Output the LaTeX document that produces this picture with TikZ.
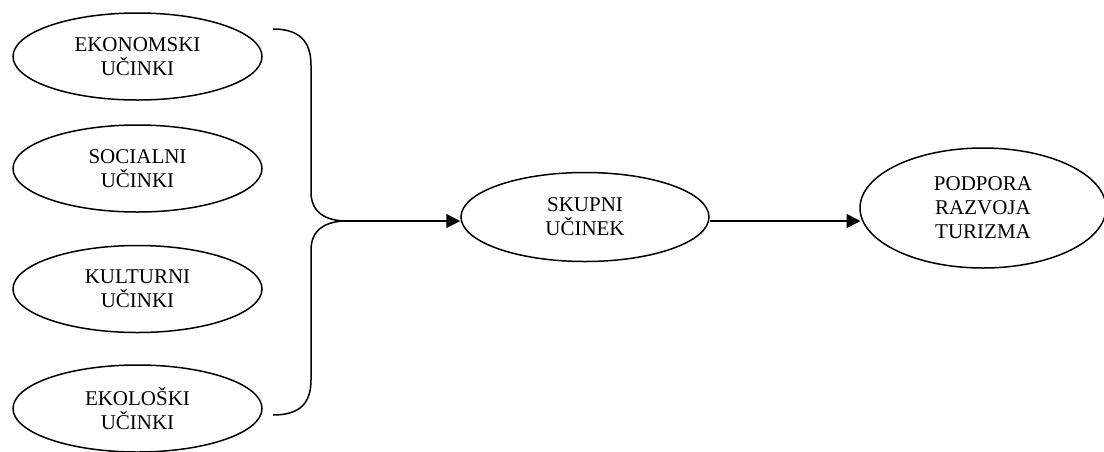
\documentclass[tikz,border=0pt]{standalone}
\usepackage{fontspec}
\setmainfont{Liberation Serif}
\usetikzlibrary{shapes.geometric,arrows.meta}
\begin{document}
\begin{tikzpicture}[x=1pt,y=-1pt,
  oval/.style={draw,ellipse,line width=1.5pt,inner sep=0pt,align=center,
    font=\fontsize{21}{24}\selectfont},
  conn/.style={line width=1.5pt},
  arr/.style={conn,-{Triangle[length=14pt,width=14pt]}}]
\useasboundingbox (0,0) rectangle (1104,451);
\node[oval,minimum width=249pt,minimum height=87pt] (e1) at (137.5,56.5) {EKONOMSKI\\UČINKI};
\node[oval,minimum width=249pt,minimum height=87pt] (e2) at (137.5,168.5) {SOCIALNI\\UČINKI};
\node[oval,minimum width=249pt,minimum height=87pt] (e3) at (137.5,289) {KULTURNI\\UČINKI};
\node[oval,minimum width=249pt,minimum height=87pt] (e4) at (137.5,408.5) {EKOLOŠKI\\UČINKI};
\node[oval,minimum width=248pt,minimum height=89pt] (s) at (585,217) {SKUPNI\\UČINEK};
\node[oval,minimum width=246pt,minimum height=120pt] (p) at (983,208) {PODPORA\\RAZVOJA\\TURIZMA};
\coordinate (bt) at (273,29);
\coordinate (bb) at (273,415);
\coordinate (j) at (347,221);
\draw[conn] (bt) .. controls (300,29) and (311,42) .. (311,65) -- (311,192)
  .. controls (311,212) and (325,221) .. (j);
\draw[conn] (j) .. controls (325,221) and (311,230) .. (311,250) -- (311,380)
  .. controls (311,403) and (300,415) .. (bb);
\draw[arr] (j) -- (j -| s.west);
\draw[arr] (s.east |- 0,221) -- (860.5,221);
\end{tikzpicture}
\end{document}
